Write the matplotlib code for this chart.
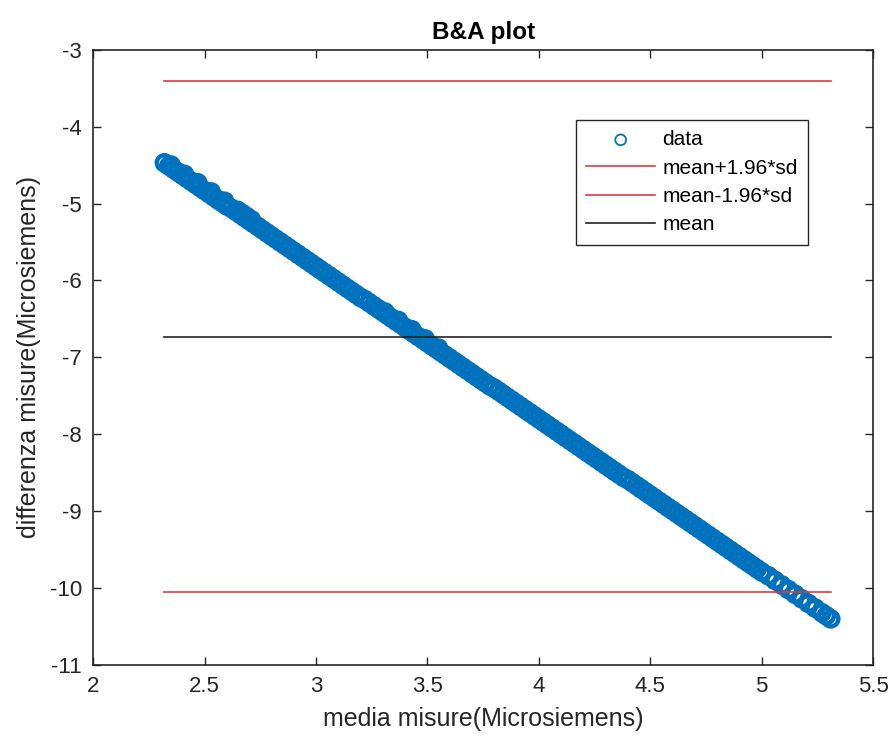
import numpy as np
import matplotlib
matplotlib.use("Agg")
import matplotlib.pyplot as plt

plt.rcParams['font.family'] = ['Liberation Sans', 'DejaVu Sans']
plt.rcParams['axes.unicode_minus'] = False

# --- data ---
media = [2.32, 2.34, 2.36, 2.38, 2.40, 2.42, 2.44, 2.46, 2.48, 2.50,
         2.52, 2.54, 2.56, 2.58, 2.60, 2.62, 2.64, 2.66, 2.68, 2.70,
         2.72, 2.74, 2.76, 2.78, 2.80, 2.82, 2.84, 2.86, 2.88, 2.90,
         2.92, 2.94, 2.96, 2.98, 3.00, 3.02, 3.04, 3.06, 3.08, 3.10,
         3.12, 3.14, 3.16, 3.18, 3.20, 3.22, 3.24, 3.26, 3.28, 3.30,
         3.32, 3.34, 3.36, 3.38, 3.40, 3.42, 3.44, 3.46, 3.48, 3.50,
         3.52, 3.54, 3.56, 3.58, 3.60, 3.62, 3.64, 3.66, 3.68, 3.70,
         3.72, 3.74, 3.76, 3.78, 3.80, 3.82, 3.84, 3.86, 3.88, 3.90,
         3.92, 3.94, 3.96, 3.98, 4.00, 4.02, 4.04, 4.06, 4.08, 4.10,
         4.12, 4.14, 4.16, 4.18, 4.20, 4.22, 4.24, 4.26, 4.28, 4.30,
         4.32, 4.34, 4.36, 4.38, 4.40, 4.42, 4.44, 4.46, 4.48, 4.50,
         4.52, 4.54, 4.56, 4.58, 4.60, 4.62, 4.64, 4.66, 4.68, 4.70,
         4.72, 4.74, 4.76, 4.78, 4.80, 4.82, 4.84, 4.86, 4.88, 4.90,
         4.92, 4.94, 4.96, 4.98, 5.00,
         5.03, 5.06, 5.09, 5.12, 5.15, 5.18, 5.21, 5.24, 5.27, 5.29, 5.31,
         # thicker parts of the band
         2.35, 2.41, 2.47, 2.53, 2.59, 2.65, 2.67, 2.69, 2.71,
         3.31, 3.37, 3.43, 3.49, 3.55]
differenza = [-4.47, -4.51, -4.55, -4.59, -4.63, -4.67, -4.71, -4.75, -4.79, -4.83,
              -4.87, -4.91, -4.95, -4.99, -5.03, -5.06, -5.10, -5.14, -5.18, -5.22,
              -5.26, -5.30, -5.34, -5.38, -5.42, -5.46, -5.50, -5.54, -5.58, -5.62,
              -5.66, -5.70, -5.74, -5.78, -5.82, -5.86, -5.90, -5.94, -5.98, -6.02,
              -6.06, -6.10, -6.14, -6.18, -6.22, -6.25, -6.29, -6.33, -6.37, -6.41,
              -6.45, -6.49, -6.53, -6.57, -6.61, -6.65, -6.69, -6.73, -6.77, -6.81,
              -6.85, -6.89, -6.93, -6.97, -7.01, -7.05, -7.09, -7.13, -7.17, -7.21,
              -7.25, -7.29, -7.33, -7.37, -7.40, -7.44, -7.48, -7.52, -7.56, -7.60,
              -7.64, -7.68, -7.72, -7.76, -7.80, -7.84, -7.88, -7.92, -7.96, -8.00,
              -8.04, -8.08, -8.12, -8.16, -8.20, -8.24, -8.28, -8.32, -8.36, -8.40,
              -8.44, -8.48, -8.52, -8.56, -8.59, -8.63, -8.67, -8.71, -8.75, -8.79,
              -8.83, -8.87, -8.91, -8.95, -8.99, -9.03, -9.07, -9.11, -9.15, -9.19,
              -9.23, -9.27, -9.31, -9.35, -9.39, -9.43, -9.47, -9.51, -9.55, -9.59,
              -9.63, -9.67, -9.71, -9.75, -9.79,
              -9.84, -9.90, -9.96, -10.02, -10.08, -10.14, -10.20, -10.26, -10.32, -10.36, -10.40,
              -4.50, -4.62, -4.73, -4.85, -4.97, -5.09, -5.13, -5.17, -5.21,
              -6.41, -6.52, -6.64, -6.76, -6.88]

mean_val = -6.73     # mean
upper_val = -3.40    # mean+1.96*sd
lower_val = -10.05   # mean-1.96*sd

# --- figure and axes ---
fig = plt.figure(figsize=(8.95, 7.43), dpi=100)
ax = fig.add_axes([0.104, 0.105, 0.8715, 0.828])

ax.scatter(media, differenza, s=120, facecolors='none', edgecolors='#0072BD',
           linewidths=3.2, label='data', zorder=2)

x_ends = [min(media), max(media)]
ax.plot(x_ends, [upper_val, upper_val], color='#e03a3a', linewidth=1.2, label='mean+1.96*sd', zorder=3)
ax.plot(x_ends, [lower_val, lower_val], color='#e03a3a', linewidth=1.2, label='mean-1.96*sd', zorder=3)
ax.plot(x_ends, [mean_val, mean_val], color='#222222', linewidth=1.2, label='mean', zorder=3)

ax.set_xlim(2, 5.5)
ax.set_ylim(-11, -3)
ax.set_xticks(np.arange(2, 5.51, 0.5))
ax.set_xticklabels(['2', '2.5', '3', '3.5', '4', '4.5', '5', '5.5'])
ax.set_yticks(np.arange(-11, -2.9, 1))

txt_col = '#262626'
ax.tick_params(direction='in', length=6, width=1, top=True, right=True,
               labelsize=16, colors=txt_col, pad=8)
for sp in ax.spines.values():
    sp.set_color(txt_col)
    sp.set_linewidth(1.2)

ax.set_xlabel('media misure(Microsiemens)', fontsize=18, color=txt_col, labelpad=7)
ax.set_ylabel('differenza misure(Microsiemens)', fontsize=18, color=txt_col, labelpad=6)
ax.set_title('B&A plot', fontsize=17.5, fontweight='bold', color='black', pad=8)

leg = ax.legend(loc='upper left', bbox_to_anchor=(0.619, 0.886), borderaxespad=0,
                fontsize=15, frameon=True, fancybox=False, edgecolor=txt_col,
                framealpha=1, handlelength=3.3, handletextpad=0.35,
                labelspacing=0.45, scatterpoints=1, borderpad=0.5)
leg.get_frame().set_linewidth(1.0)
leg.legend_handles[0].set_linewidths([1.3])
leg.legend_handles[0].set_sizes([60])

fig.savefig('out.png', dpi=100)
